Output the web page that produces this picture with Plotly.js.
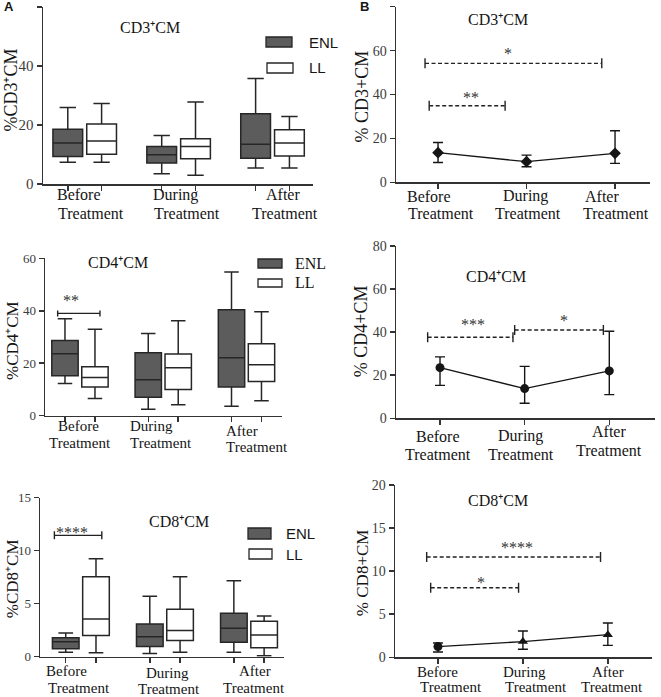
<!DOCTYPE html>
<html><head><meta charset="utf-8">
<script src="https://cdn.plot.ly/plotly-3.0.1.min.js"></script>
<style>html,body{margin:0;padding:0;background:#fff}#chart{width:661px;height:697px}</style>
</head><body><div id="chart"></div>
<script>
// ---------------- data ----------------
const timepoints = ['Before', 'During', 'After'];
const timeSuffix = 'Treatment';
const groupNames = ['ENL', 'LL'];

// Panel A: box plots (q1, median, q3, lower whisker, upper whisker)
const cd3EnlQ1 = [9.3, 7.1, 8.7];
const cd3EnlMed = [13.9, 9.9, 13.5];
const cd3EnlQ3 = [18.6, 12.7, 23.8];
const cd3EnlLo = [7.4, 3.5, 5.4];
const cd3EnlHi = [25.9, 16.4, 35.8];
const cd3LlQ1 = [10.1, 8.6, 9.5];
const cd3LlMed = [14.6, 12.7, 13.9];
const cd3LlQ3 = [20.3, 15.3, 18.4];
const cd3LlLo = [7.4, 3.0, 5.4];
const cd3LlHi = [27.3, 27.8, 22.9];

const cd4EnlQ1 = [15.2, 7.0, 10.9];
const cd4EnlMed = [23.6, 13.7, 22.1];
const cd4EnlQ3 = [28.7, 24.0, 40.4];
const cd4EnlLo = [12.3, 2.5, 3.6];
const cd4EnlHi = [37.0, 31.3, 54.8];
const cd4LlQ1 = [10.9, 10.0, 13.0];
const cd4LlMed = [14.6, 18.3, 19.4];
const cd4LlQ3 = [18.7, 23.5, 27.4];
const cd4LlLo = [6.6, 4.2, 5.7];
const cd4LlHi = [33.0, 36.2, 39.6];

const cd8EnlQ1 = [0.75, 0.97, 1.36];
const cd8EnlMed = [1.42, 1.89, 2.68];
const cd8EnlQ3 = [1.79, 3.08, 4.09];
const cd8EnlLo = [0.41, 0.31, 0.41];
const cd8EnlHi = [2.23, 5.70, 7.17];
const cd8LlQ1 = [2.0, 1.54, 0.85];
const cd8LlMed = [3.55, 2.48, 2.05];
const cd8LlQ3 = [7.55, 4.47, 3.34];
const cd8LlLo = [0.38, 0.41, 0.10];
const cd8LlHi = [9.25, 7.55, 3.84];

// Panel B: mean with error bar ends
const cd3Mean = [13.5, 9.4, 13.2];
const cd3Upper = [18.1, 12.4, 23.5];
const cd3Lower = [9.0, 7.1, 8.6];
const cd4Mean = [23.5, 13.8, 22.0];
const cd4Upper = [28.5, 24.1, 40.4];
const cd4Lower = [15.3, 7.0, 11.0];
const cd8Mean = [1.24, 1.82, 2.63];
const cd8Upper = [1.66, 3.06, 3.98];
const cd8Lower = [0.62, 0.93, 1.39];

// ---------------- style / layout helpers ----------------
const W = 661, H = 697;
const px2x = p => p / W;
const px2y = p => 1 - p / H;
const serif = '"Liberation Serif","Times New Roman",serif';
const sans = '"Liberation Sans",Arial,sans-serif';
const INK = '#151515', AXC = '#333333', TICKC = '#3c3c3c';
const ENL_FILL = '#5c5c5c', LL_FILL = '#ffffff', BOXLINE = '#262626';
const BOXGAP = 0.28, BOXGROUPGAP = 0.12;
const catIdx = timepoints.map((_, i) => i);
const boxOffset = 0.25 * (1 - BOXGAP);

const panels = [
  { kind: 'box', xpx: [43, 313], ypx: [7, 184], xr: [-0.444, 2.431], yr: [0, 60], dtick: 20, tickSize: 15,
    labSize: 16, l1dx: [-6, -3, 10], l1dy: [11, 11, 11], l2dx: [6, 8, 12], l2dy: [30, 30, 30],
    ytitle: '%CD3⁺CM', ytSize: 18, ytDx: -32, ytDy: 5,
    title: 'CD3⁺CM', titlePx: [150, 28],
    series: [[cd3EnlQ1, cd3EnlMed, cd3EnlQ3, cd3EnlLo, cd3EnlHi], [cd3LlQ1, cd3LlMed, cd3LlQ3, cd3LlLo, cd3LlHi]],
    legend: { font: sans, size: 15, boxes: [[266, 37, 292, 47], [267, 63, 293, 73]], textPx: [[307, 42], [307, 68]] },
    brackets: [] },
  { kind: 'box', xpx: [45, 282.3], ypx: [258.3, 415.7], xr: [-0.42, 2.43], yr: [0, 60], dtick: 20, tickSize: 13,
    labSize: 15, l1dx: [-1, -12, -5], l1dy: [10, 10, 15], l2dx: [0, -2, 10], l2dy: [27, 27, 31],
    ytitle: '%CD4⁺CM', ytSize: 17, ytDx: -33, ytDy: -4,
    title: 'CD4⁺CM', titlePx: [118, 262.5],
    series: [[cd4EnlQ1, cd4EnlMed, cd4EnlQ3, cd4EnlLo, cd4EnlHi], [cd4LlQ1, cd4LlMed, cd4LlQ3, cd4LlLo, cd4LlHi]],
    legend: { font: serif, size: 16, boxes: [[258, 259, 282, 268], [258, 279, 282, 287]], textPx: [[293, 263.5], [293, 282.5]] },
    brackets: [{ x0: -0.268, x1: 0.24, y: 39.0, dash: 'solid', cap: 3, text: '**', tx: -0.11, ty: 45.4 }] },
  { kind: 'box', xpx: [40, 284.3], ypx: [497.7, 656.7], xr: [-0.486, 2.42], yr: [0, 15], dtick: 5, tickSize: 13,
    labSize: 15, l1dx: [-14, 3, 6], l1dy: [14, 16, 14], l2dx: [-2, 4, 5], l2dy: [31, 32, 31],
    ytitle: '%CD8⁺CM', ytSize: 17, ytDx: -28, ytDy: -2,
    title: 'CD8⁺CM', titlePx: [179, 521],
    series: [[cd8EnlQ1, cd8EnlMed, cd8EnlQ3, cd8EnlLo, cd8EnlHi], [cd8LlQ1, cd8LlMed, cd8LlQ3, cd8LlLo, cd8LlHi]],
    legend: { font: sans, size: 15, boxes: [[248, 528, 271, 539], [249, 549, 272, 559]], textPx: [[284, 533.5], [284, 554.5]] },
    brackets: [{ x0: -0.315, x1: 0.249, y: 11.45, dash: 'solid', cap: 4, text: '****', tx: -0.10, ty: 12.1 }] },
  { kind: 'line', xpx: [396, 650], ypx: [6.7, 182.3], xr: [-0.475, 2.395], yr: [0, 80], dtick: 20, tickSize: 14,
    labSize: 16, l1dx: [-9, -1.5, -13], l1dy: [14, 14, 14], l2dx: [3, 1, 1], l2dy: [31, 31, 31],
    ytitle: '% CD3+CM', ytSize: 18, ytDx: -35, ytDy: -2,
    title: 'CD3⁺CM', titlePx: [497.5, 20],
    mean: cd3Mean, upper: cd3Upper, lower: cd3Lower, symbols: ['diamond', 'diamond', 'diamond'],
    brackets: [{ x0: -0.147, x1: 1.85, y: 54.2, dash: '4px,2.5px', cap: 5, text: '*', tx: 0.79, ty: 60.3 },
               { x0: -0.10, x1: 0.758, y: 34.9, dash: '4px,2.5px', cap: 5, text: '**', tx: 0.367, ty: 40.5 }] },
  { kind: 'line', xpx: [396, 655], ypx: [246, 418.3], xr: [-0.52, 2.54], yr: [0, 80], dtick: 20, tickSize: 14,
    labSize: 16, l1dx: [-2, -4, 0], l1dy: [18, 18, 13], l2dx: [-2, -4, 0], l2dy: [36, 36, 32],
    ytitle: '% CD4+CM', ytSize: 18, ytDx: -35, ytDy: 1,
    title: 'CD4⁺CM', titlePx: [496, 276.5],
    mean: cd4Mean, upper: cd4Upper, lower: cd4Lower, symbols: ['circle', 'circle', 'circle'],
    brackets: [{ x0: -0.146, x1: 0.862, y: 37.6, dash: '4px,2.5px', cap: 5, text: '***', tx: 0.39, ty: 45.2 },
               { x0: 0.882, x1: 1.93, y: 41.0, dash: '4px,2.5px', cap: 5, text: '*', tx: 1.47, ty: 47.2 }] },
  { kind: 'line', xpx: [395, 652], ypx: [485, 657.3], xr: [-0.506, 2.52], yr: [0, 20], dtick: 5, tickSize: 14,
    labSize: 15, l1dx: [-0.5, 1.7, 0.5], l1dy: [15, 15, 15], l2dx: [13, 13, 4], l2dy: [30, 30, 30],
    ytitle: '% CD8+CM', ytSize: 17, ytDx: -33, ytDy: -1,
    title: 'CD8⁺CM', titlePx: [497.5, 500],
    mean: cd8Mean, upper: cd8Upper, lower: cd8Lower, symbols: ['circle', 'triangle-up', 'triangle-up'],
    brackets: [{ x0: -0.133, x1: 1.914, y: 11.64, dash: '4px,2.5px', cap: 5, text: '****', tx: 0.935, ty: 13.2 },
               { x0: -0.086, x1: 0.949, y: 8.08, dash: '4px,2.5px', cap: 5, text: '*', tx: 0.506, ty: 9.2 }] }
];

const traces = [];
const shapes = [];
const annotations = [];
const layout = {
  width: W, height: H, margin: { l: 0, r: 0, t: 0, b: 0 },
  paper_bgcolor: '#fff', plot_bgcolor: 'rgba(0,0,0,0)',
  showlegend: false, hovermode: false,
  boxmode: 'group', boxgap: BOXGAP, boxgroupgap: BOXGROUPGAP,
  font: { family: serif, color: INK, size: 14 }
};

panels.forEach((p, k) => {
  const n = k + 1;
  const xid = n === 1 ? 'x' : 'x' + n;
  const yid = n === 1 ? 'y' : 'y' + n;
  const xkey = n === 1 ? 'xaxis' : 'xaxis' + n;
  const ykey = n === 1 ? 'yaxis' : 'yaxis' + n;
  layout[xkey] = {
    domain: [px2x(p.xpx[0]), px2x(p.xpx[1])], range: p.xr, anchor: yid, type: 'linear',
    showline: true, linecolor: AXC, linewidth: 1.5, ticks: 'outside', ticklen: 5, tickwidth: 1.5, tickcolor: AXC,
    tickmode: 'array',
    tickvals: p.kind === 'box' ? catIdx.flatMap(i => [i - boxOffset, i + boxOffset]) : catIdx,
    showticklabels: false, showgrid: false, zeroline: false, fixedrange: true
  };
  layout[ykey] = {
    domain: [px2y(p.ypx[1]), px2y(p.ypx[0])], range: p.yr, anchor: xid,
    tick0: 0, dtick: p.dtick, showline: true, linecolor: AXC, linewidth: 1.5,
    ticks: 'outside', ticklen: 5, tickwidth: 1.5, tickcolor: AXC,
    tickfont: { family: serif, size: p.tickSize, color: TICKC },
    showgrid: false, zeroline: false, fixedrange: true
  };

  if (p.kind === 'box') {
    p.series.forEach((s, g) => {
      traces.push({
        type: 'box', name: groupNames[g], x: catIdx,
        q1: s[0], median: s[1], q3: s[2], lowerfence: s[3], upperfence: s[4],
        xaxis: xid, yaxis: yid, boxpoints: false, whiskerwidth: 0.55,
        alignmentgroup: 'panel' + n, offsetgroup: groupNames[g],
        fillcolor: g === 0 ? ENL_FILL : LL_FILL, line: { color: BOXLINE, width: 1.5 },
        hoverinfo: 'skip'
      });
    });
    // legend swatches
    p.legend.boxes.forEach((b, g) => {
      shapes.push({ type: 'rect', xref: 'paper', yref: 'paper', x0: px2x(b[0]), x1: px2x(b[2]), y0: px2y(b[3]), y1: px2y(b[1]),
        fillcolor: g === 0 ? ENL_FILL : LL_FILL, line: { color: BOXLINE, width: 1.3 } });
      annotations.push({ xref: 'paper', yref: 'paper', x: px2x(p.legend.textPx[g][0]), y: px2y(p.legend.textPx[g][1]),
        xanchor: 'left', yanchor: 'middle', showarrow: false, text: groupNames[g],
        font: { family: p.legend.font, size: p.legend.size, color: INK } });
    });
  } else {
    traces.push({
      type: 'scatter', mode: 'lines+markers', x: catIdx, y: p.mean, xaxis: xid, yaxis: yid,
      line: { color: INK, width: 1.3 },
      marker: { color: INK, size: 9, symbol: p.symbols },
      error_y: { type: 'data', symmetric: false,
        array: p.upper.map((u, i) => u - p.mean[i]),
        arrayminus: p.mean.map((m, i) => m - p.lower[i]),
        color: INK, thickness: 1.4, width: 5 },
      hoverinfo: 'skip'
    });
  }

  // category labels (two lines)
  timepoints.forEach((t, i) => {
    annotations.push({ xref: xid, yref: yid + ' domain', x: i, y: 0, xshift: p.l1dx[i], yshift: -p.l1dy[i],
      xanchor: 'center', yanchor: 'middle', showarrow: false, text: t,
      font: { family: serif, size: p.labSize, color: INK } });
    annotations.push({ xref: xid, yref: yid + ' domain', x: i, y: 0, xshift: p.l2dx[i], yshift: -p.l2dy[i],
      xanchor: 'center', yanchor: 'middle', showarrow: false, text: timeSuffix,
      font: { family: serif, size: p.labSize, color: INK } });
  });

  // y axis title
  annotations.push({ xref: xid + ' domain', yref: yid + ' domain', x: 0, y: 0.5, xshift: p.ytDx, yshift: p.ytDy,
    xanchor: 'center', yanchor: 'middle', textangle: -90, showarrow: false, text: p.ytitle,
    font: { family: serif, size: p.ytSize, color: INK } });

  // panel title
  annotations.push({ xref: 'paper', yref: 'paper', x: px2x(p.titlePx[0]), y: px2y(p.titlePx[1]),
    xanchor: 'center', yanchor: 'middle', showarrow: false, text: p.title,
    font: { family: serif, size: 16, color: INK } });

  // significance brackets
  p.brackets.forEach(b => {
    const ln = { color: '#222', width: 1.4, dash: b.dash };
    shapes.push({ type: 'line', xref: xid, yref: yid, x0: b.x0, x1: b.x1, y0: b.y, y1: b.y, line: ln });
    [b.x0, b.x1].forEach(xx => shapes.push({ type: 'line', xref: xid, yref: yid, x0: xx, x1: xx,
      ysizemode: 'pixel', yanchor: b.y, y0: -b.cap, y1: b.cap, line: { color: '#222', width: 1.4 } }));
    annotations.push({ xref: xid, yref: yid, x: b.tx, y: b.ty, yshift: -4, xanchor: 'center', yanchor: 'middle',
      showarrow: false, text: b.text, font: { family: serif, size: 16, color: '#333' } });
  });
});

// panel letters
annotations.push({ xref: 'paper', yref: 'paper', x: px2x(9), y: px2y(7), xanchor: 'center', yanchor: 'middle',
  showarrow: false, text: '<b>A</b>', font: { family: sans, size: 13, color: INK } });
annotations.push({ xref: 'paper', yref: 'paper', x: px2x(364), y: px2y(7), xanchor: 'center', yanchor: 'middle',
  showarrow: false, text: '<b>B</b>', font: { family: sans, size: 13, color: INK } });

layout.shapes = shapes;
layout.annotations = annotations;

Plotly.newPlot('chart', traces, layout, { staticPlot: true, displayModeBar: false });
</script>
</body></html>
